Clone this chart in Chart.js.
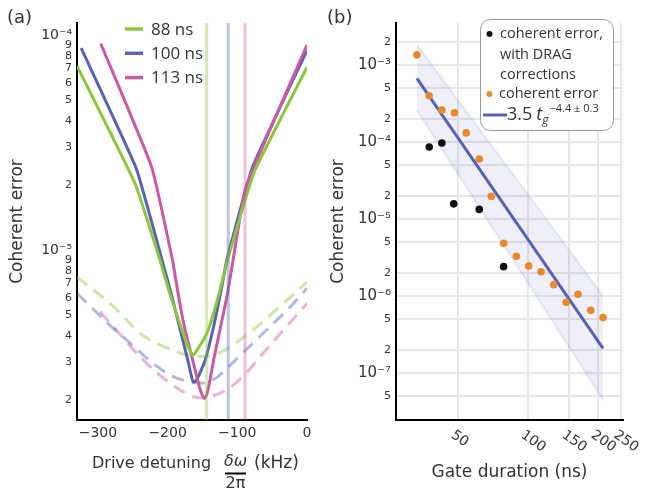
<!DOCTYPE html>
<html>
<head>
<meta charset="utf-8">
<script src="https://cdn.jsdelivr.net/npm/chart.js@4.4.1/dist/chart.umd.min.js"></script>
<style>
  html, body { margin: 0; padding: 0; background: #fff; }
  #wrap { position: relative; width: 647px; height: 498px; }
  #wrap canvas { position: absolute; left: 0; top: 0; }
</style>
</head>
<body>
<div id="wrap">
  <canvas id="chartA" width="647" height="498"></canvas>
  <canvas id="chartB" width="647" height="498"></canvas>
</div>
<script>
// ---- panel (a): coherent error vs drive detuning ----
const gateTimes = ['88 ns', '100 ns', '113 ns']

const solid88X = [-330, -247, -211, -197, -181, -172, -167, -164, -161, -156, -148, -140, -126, -114, -76, 0]
const solid88Y = [7.2e-5, 2.05e-5, 9.0e-6, 6.3e-6, 4.4e-6, 3.65e-6, 3.35e-6, 3.25e-6, 3.3e-6, 3.5e-6, 3.85e-6, 4.4e-6, 6.3e-6, 9.0e-6, 2.3e-5, 7.1e-5]

const solid100X = [-324, -245, -208, -195, -183, -171, -166, -163, -160, -155, -146, -134, -124, -115, -78, 0]
const solid100Y = [8.7e-5, 2.4e-5, 9.0e-6, 6.3e-6, 4.4e-6, 3.08e-6, 2.6e-6, 2.43e-6, 2.45e-6, 2.62e-6, 3.08e-6, 4.4e-6, 6.3e-6, 9.0e-6, 2.44e-5, 8.5e-5]

const solid113X = [-296, -223, -193, -185, -176, -164, -155, -150, -147, -144, -139, -134, -124, -114, -106, -88, 0]
const solid113Y = [9.15e-5, 2.44e-5, 9.0e-6, 6.3e-6, 4.4e-6, 3.08e-6, 2.35e-6, 2.1e-6, 2.04e-6, 2.12e-6, 2.5e-6, 3.08e-6, 4.4e-6, 6.3e-6, 9.0e-6, 1.95e-5, 9.0e-5]

const dashed88X = [-330, -280, -235, -195, -165, -145, -120, -95, -65, -30, 0]
const dashed88Y = [7.5e-6, 5.55e-6, 4.0e-6, 3.45e-6, 3.22e-6, 3.2e-6, 3.4e-6, 3.85e-6, 4.6e-6, 5.8e-6, 7.1e-6]

const dashed100X = [-330, -283, -250, -221, -192, -170, -150, -130, -116, -78, -50, -26, 0]
const dashed100Y = [6.3e-6, 4.48e-6, 3.6e-6, 2.97e-6, 2.58e-6, 2.45e-6, 2.41e-6, 2.55e-6, 2.8e-6, 3.68e-6, 4.5e-6, 5.36e-6, 6.64e-6]

const dashed113X = [-297, -270, -235, -202, -169, -154, -140, -116, -92, -59, -30, 0]
const dashed113Y = [5.17e-6, 4.12e-6, 3.08e-6, 2.48e-6, 2.12e-6, 2.05e-6, 2.08e-6, 2.23e-6, 2.58e-6, 3.43e-6, 4.39e-6, 5.65e-6]

// optimal detuning markers
const optimalX = [-144, -113, -89]

const xTicksA = [-300, -200, -100, 0]
const yTicksA = [2e-6, 3e-6, 4e-6, 5e-6, 6e-6, 7e-6, 8e-6, 9e-6, 1e-5, 2e-5, 3e-5, 4e-5, 5e-5, 6e-5, 7e-5, 8e-5, 9e-5, 1e-4]

// ---- panel (b): coherent error vs gate duration ----
const gateX = [33.2, 37.5, 42.5, 48.1, 54.1, 61.5, 69.3, 78.3, 88.8, 100.3, 113.4, 128.4, 145.3, 163.5, 185.3, 209.4]
const gateErr = [1.35e-3, 3.98e-4, 2.59e-4, 2.39e-4, 1.31e-4, 6.0e-5, 1.96e-5, 4.82e-6, 3.27e-6, 2.45e-6, 2.06e-6, 1.40e-6, 8.3e-7, 1.05e-6, 6.5e-7, 5.24e-7]

const dragX = [37.5, 42.5, 47.8, 61.5, 78.3]
const dragErr = [8.6e-5, 9.7e-5, 1.57e-5, 1.33e-5, 2.4e-6]

const fitX = [33.2, 209.4]
const fitY = [6.7e-4, 2.08e-7]
const bandUpper = [1.82e-3, 1.0e-6]
const bandLower = [2.59e-4, 4.5e-8]

const xTicksB = [50, 100, 150, 200, 250]
const yTicksB = [5e-8, 1e-7, 2e-7, 5e-7, 1e-6, 2e-6, 5e-6, 1e-5, 2e-5, 5e-5, 1e-4, 2e-4, 5e-4, 1e-3, 2e-3]

const GREEN = '#8cc63f'
const BLUE = '#5862b2'
const PINK = '#c85aa2'
const ORANGE = '#e8892b'
const TEXT = '#333'

Chart.defaults.font.family = "'DejaVu Sans', sans-serif"
Chart.defaults.color = TEXT

const SUP = { '-': '\u207B', 0: '\u2070', 1: '\u00B9', 2: '\u00B2', 3: '\u00B3', 4: '\u2074', 5: '\u2075', 6: '\u2076', 7: '\u2077', 8: '\u2078', 9: '\u2079' }

function isDecade (v) {
  const e = Math.log10(v)
  return Math.abs(e - Math.round(e)) < 1e-6
}

function logLabel (v) {
  if (isDecade(v)) {
    const e = String(Math.round(Math.log10(v)))
    return '10' + e.split('').map(c => SUP[c]).join('')
  }
  return String(Math.round(v / Math.pow(10, Math.floor(Math.log10(v) + 1e-9))))
}

function pts (xs, ys) {
  return xs.map((x, i) => ({ x, y: ys[i] }))
}

function alpha (hex, a) {
  const n = parseInt(hex.slice(1), 16)
  return `rgba(${n >> 16}, ${(n >> 8) & 255}, ${n & 255}, ${a})`
}

const yMinA = 1.62e-6
const yMaxA = 1.14e-4

function solid (data, color) {
  return { data, borderColor: color, borderWidth: 3, pointRadius: 0, tension: 0.12, borderJoinStyle: 'round', fill: false }
}

function dashed (data, color) {
  return { data, borderColor: alpha(color, 0.45), borderWidth: 3, borderDash: [13, 8], pointRadius: 0, cubicInterpolationMode: 'monotone', fill: false }
}

function vline (x, color) {
  return { data: [{ x, y: yMinA }, { x, y: yMaxA }], borderColor: alpha(color, 0.38), borderWidth: 3, pointRadius: 0, fill: false }
}

const panelAPlugin = {
  id: 'panelA',
  afterDraw (chart) {
    const ctx = chart.ctx
    const colors = [GREEN, BLUE, PINK]
    ctx.save()
    ctx.fillStyle = TEXT
    ctx.textBaseline = 'middle'
    ctx.textAlign = 'left'
    ctx.font = "18px 'DejaVu Sans'"
    ctx.fillText('(a)', 7, 18)

    // legend inside the plot
    ctx.font = "17px 'Open Sans'"
    gateTimes.forEach((name, i) => {
      const y = 29 + i * 24.3
      ctx.strokeStyle = colors[i]
      ctx.lineWidth = 3.5
      ctx.beginPath()
      ctx.moveTo(125, y)
      ctx.lineTo(143, y)
      ctx.stroke()
      ctx.fillText(name, 151, y + 1)
    })

    // x axis title with the fraction
    ctx.font = "16px 'DejaVu Sans'"
    ctx.fillText('Drive detuning', 92, 464)
    ctx.textAlign = 'center'
    ctx.font = "italic 16px 'DejaVu Sans'"
    ctx.fillText('\u03B4\u03C9', 235.5, 462)
    ctx.fillStyle = '#000'
    ctx.fillRect(225, 472.5, 21, 2)
    ctx.fillStyle = TEXT
    ctx.font = "16px 'DejaVu Sans'"
    ctx.fillText('2\u03C0', 235.5, 484)
    ctx.textAlign = 'left'
    ctx.font = "17px 'DejaVu Sans'"
    ctx.fillText('(kHz)', 254, 464)
    ctx.restore()
  }
}

new Chart(document.getElementById('chartA'), {
  type: 'scatter',
  data: {
    datasets: [
      vline(optimalX[0], GREEN),
      vline(optimalX[1], BLUE),
      vline(optimalX[2], PINK),
      solid(pts(solid88X, solid88Y), GREEN),
      solid(pts(solid113X, solid113Y), PINK),
      solid(pts(solid100X, solid100Y), BLUE),
      dashed(pts(dashed88X, dashed88Y), GREEN),
      dashed(pts(dashed100X, dashed100Y), BLUE),
      dashed(pts(dashed113X, dashed113Y), PINK)
    ].map(d => Object.assign({ showLine: true }, d))
  },
  options: {
    responsive: false,
    animation: false,
    events: [],
    layout: { padding: { left: 0, top: 23, right: 340, bottom: 0 } },
    plugins: { legend: { display: false }, tooltip: { enabled: false } },
    scales: {
      x: {
        type: 'linear',
        min: -330,
        max: 0,
        grid: { display: false, drawTicks: false },
        border: { color: '#000', width: 2 },
        ticks: {
          font: { size: 14 },
          padding: 5,
          maxRotation: 0,
          autoSkip: false,
          callback: v => v < 0 ? '\u2212' + (-v) : String(v)
        },
        afterBuildTicks: s => { s.ticks = xTicksA.map(value => ({ value })) },
        afterFit: s => { s.height = 78 }
      },
      y: {
        type: 'logarithmic',
        min: yMinA,
        max: yMaxA,
        grid: { display: false, drawTicks: false },
        border: { color: '#000', width: 2 },
        ticks: {
          autoSkip: false,
          padding: 5,
          font: ctx => ({ size: ctx.tick && isDecade(ctx.tick.value) ? 14 : 11 }),
          callback: v => logLabel(v)
        },
        afterBuildTicks: s => { s.ticks = yTicksA.map(value => ({ value })) },
        afterFit: s => { s.width = 77 },
        title: { display: true, text: 'Coherent error', font: { size: 17 }, padding: { top: 7, bottom: 0 } }
      }
    }
  },
  plugins: [panelAPlugin]
})

const panelBPlugin = {
  id: 'panelB',
  afterDraw (chart) {
    const ctx = chart.ctx
    const xs = chart.scales.x
    ctx.save()
    ctx.fillStyle = TEXT
    ctx.textBaseline = 'middle'
    ctx.textAlign = 'left'
    ctx.font = "18px 'DejaVu Sans'"
    ctx.fillText('(b)', 327, 18)

    // rotated x tick labels
    ctx.font = "14px 'DejaVu Sans'"
    ctx.textBaseline = 'top'
    xTicksB.forEach(v => {
      const px = xs.getPixelForValue(v)
      ctx.save()
      ctx.translate(px - 2, 428)
      ctx.rotate(35 * Math.PI / 180)
      ctx.fillText(String(v), 0, 0)
      ctx.restore()
    })

    // legend box
    ctx.beginPath()
    ctx.roundRect(480.5, 19.5, 133, 111, 10)
    ctx.fillStyle = '#fff'
    ctx.fill()
    ctx.strokeStyle = '#9a9a9a'
    ctx.lineWidth = 1
    ctx.stroke()

    ctx.textBaseline = 'middle'
    ctx.fillStyle = '#111'
    ctx.beginPath()
    ctx.arc(489.5, 34, 3, 0, Math.PI * 2)
    ctx.fill()
    ctx.fillStyle = ORANGE
    ctx.beginPath()
    ctx.arc(489.5, 94, 3, 0, Math.PI * 2)
    ctx.fill()

    ctx.fillStyle = TEXT
    ctx.font = "14.5px 'Open Sans'"
    ctx.fillText('coherent error,', 500, 34)
    ctx.fillText('with DRAG', 500, 54.5)
    ctx.fillText('corrections', 500, 74.5)
    ctx.fillText('coherent error', 499, 94)

    ctx.strokeStyle = BLUE
    ctx.lineWidth = 3
    ctx.beginPath()
    ctx.moveTo(483, 115)
    ctx.lineTo(507, 115)
    ctx.stroke()
    ctx.font = "18px 'Open Sans'"
    ctx.fillText('3.5', 507, 115)
    let x = 507 + ctx.measureText('3.5').width + 4
    ctx.font = "italic 18px 'Open Sans'"
    ctx.fillText('t', x, 115)
    x += ctx.measureText('t').width
    ctx.font = "italic 12px 'Open Sans'"
    ctx.fillText('g', x, 121)
    x += ctx.measureText('g').width + 1
    ctx.font = "11px 'Open Sans'"
    ctx.fillText('\u22124.4 \u00B1 0.3', x, 109)
    ctx.restore()
  }
}

new Chart(document.getElementById('chartB'), {
  type: 'scatter',
  data: {
    datasets: [
      { data: pts(dragX, dragErr), backgroundColor: '#111', borderWidth: 0, pointRadius: 3.8 },
      { data: pts(gateX, gateErr), backgroundColor: ORANGE, borderWidth: 0, pointRadius: 3.8 },
      { data: pts(fitX, fitY), showLine: true, borderColor: BLUE, borderWidth: 3, pointRadius: 0 },
      { data: pts(fitX, bandUpper), showLine: true, borderColor: alpha(BLUE, 0.13), borderWidth: 2, pointRadius: 0, backgroundColor: alpha(BLUE, 0.1), fill: '+1' },
      { data: pts(fitX, bandLower), showLine: true, borderColor: alpha(BLUE, 0.13), borderWidth: 2, pointRadius: 0 }
    ]
  },
  options: {
    responsive: false,
    animation: false,
    events: [],
    layout: { padding: { left: 323, top: 23, right: 24, bottom: 0 } },
    plugins: { legend: { display: false }, tooltip: { enabled: false } },
    scales: {
      x: {
        type: 'logarithmic',
        min: 27,
        max: 255,
        grid: { color: '#e6e6e6', lineWidth: 2, drawTicks: false },
        border: { color: '#000', width: 2 },
        ticks: { display: false },
        afterBuildTicks: s => { s.ticks = xTicksB.map(value => ({ value })) },
        afterFit: s => { s.height = 78 },
        title: { display: true, text: 'Gate duration (ns)', font: { size: 17 }, padding: { top: 0, bottom: 15 } }
      },
      y: {
        type: 'logarithmic',
        min: 2.45e-8,
        max: 3.5e-3,
        grid: { color: '#e6e6e6', lineWidth: 2, drawTicks: false },
        border: { color: '#000', width: 2 },
        ticks: {
          autoSkip: false,
          padding: 5,
          font: ctx => ({ size: ctx.tick && isDecade(ctx.tick.value) ? 15 : 11 }),
          callback: v => logLabel(v)
        },
        afterBuildTicks: s => { s.ticks = yTicksB.map(value => ({ value })) },
        afterFit: s => { s.width = 73 },
        title: { display: true, text: 'Coherent error', font: { size: 17 }, padding: { top: 5, bottom: 0 } }
      }
    }
  },
  plugins: [panelBPlugin]
})
</script>
</body>
</html>
